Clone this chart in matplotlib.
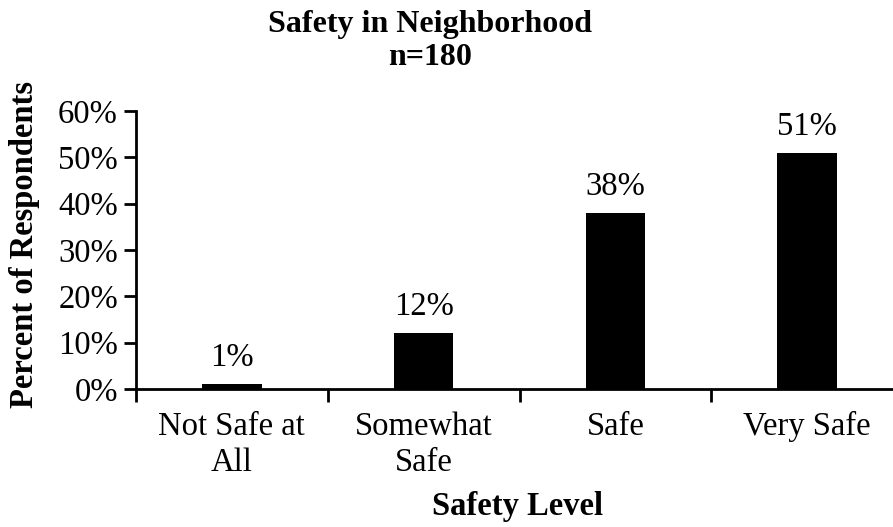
import matplotlib
matplotlib.use("Agg")
import matplotlib.pyplot as plt
import numpy as np

categories = ["Not Safe at\nAll", "Somewhat\nSafe", "Safe", "Very Safe"]
values = [1, 12, 38, 51]
value_labels = ["1%", "12%", "38%", "51%"]
yticks = [0, 10, 20, 30, 40, 50, 60]
ytick_labels = ["0%", "10%", "20%", "30%", "40%", "50%", "60%"]

plt.rcParams['font.family'] = ['Liberation Serif', 'DejaVu Serif']

W, H = 893, 527
fig = plt.figure(figsize=(W / 100, H / 100), dpi=100)
left, right = 136, 903
top, bottom = 111, 389
ax = fig.add_axes([left / W, 1 - bottom / H, (right - left) / W, (bottom - top) / H])

FS = 23.5
x = np.arange(len(categories))
ax.bar(x, values, width=0.31, color='black')
for xi, v, lab in zip(x, values, value_labels):
    ax.annotate(lab, (xi, v), xytext=(0, 8), textcoords='offset points',
                ha='center', va='bottom', fontsize=FS)

ax.set_xlim(-0.5, len(categories) - 0.5)
ax.set_ylim(0, 60)
ax.set_yticks(yticks)
ax.set_yticklabels(ytick_labels, fontsize=FS)
ax.set_xticks(x)
ax.set_xticklabels(categories, fontsize=FS, linespacing=1.25)
ax.tick_params(axis='x', length=0, pad=16)
ax.set_xticks(np.arange(-0.5, len(categories)), minor=True)
ax.tick_params(axis='x', which='minor', length=9, width=2, direction='out')
ax.tick_params(axis='y', length=9, width=2, direction='out', pad=4)

for s in ['top', 'right']:
    ax.spines[s].set_visible(False)
ax.spines['left'].set_linewidth(2)
ax.spines['bottom'].set_linewidth(2)

ax.set_ylabel("Percent of Respondents", fontsize=FS, fontweight='bold')
ax.yaxis.set_label_coords(-(left - 24) / (right - left), (bottom - 245) / (bottom - top))
ax.set_xlabel("Safety Level", fontsize=FS, fontweight='bold')
ax.xaxis.set_label_coords(((518 - left) / (right - left)), -(506 - bottom) / (bottom - top))
ax.xaxis.label.set_va('center')
ax.yaxis.label.set_va('center')

fig.text(430 / W, 1 - 41 / H, "Safety in Neighborhood\nn=180", ha='center', va='center',
         fontsize=23, fontweight='bold', linespacing=1.22)

fig.savefig("out.png", dpi=100)
